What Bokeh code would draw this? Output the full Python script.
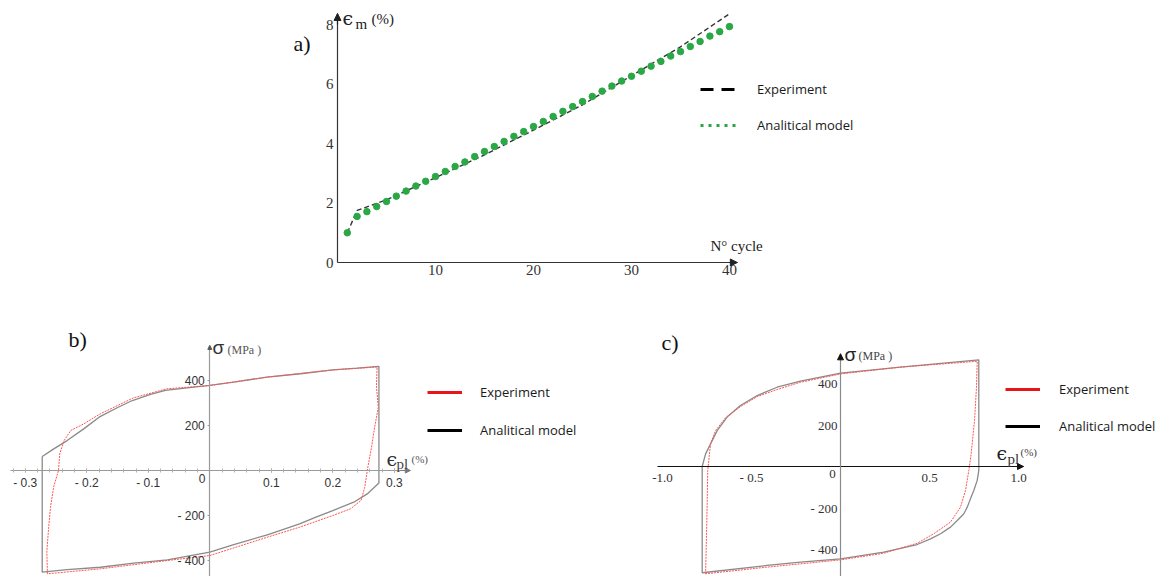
from bokeh.plotting import figure
from bokeh.models import (Range1d, LinearAxis, FixedTicker, Arrow, NormalHead, Label,
                          Legend, LegendItem, Spacer, Grid)
from bokeh.layouts import row, column
from bokeh.embed import file_html
from bokeh.resources import INLINE

NAN = float("nan")

# ---------------- data : panel a ----------------
cycles = list(range(1, 41))
model_a = [1.00, 1.55, 1.71, 1.88, 2.05, 2.23, 2.40, 2.57, 2.73, 2.89,
           3.06, 3.23, 3.38, 3.56, 3.73, 3.90, 4.07, 4.24, 4.40, 4.57,
           4.74, 4.91, 5.08, 5.24, 5.41, 5.58, 5.76, 5.93, 6.10, 6.26,
           6.43, 6.60, 6.76, 6.94, 7.09, 7.26, 7.43, 7.61, 7.76, 7.93]
exp_a_cycles = [1, 2, 5, 10, 15, 20, 25, 30, 35, 40]
exp_a_strain = [1.0, 1.75, 2.11, 2.85, 3.62, 4.45, 5.30, 6.28, 7.25, 8.36]
a_xticks = [10, 20, 30, 40]
a_yticks = [0, 2, 4, 6, 8]

# ---------------- data : panel b ----------------
b_model_up_eps = [-0.2725, -0.2537, -0.232, -0.205, -0.18, -0.1506, -0.126, -0.0964, -0.072,
                  -0.0368, 0.0, 0.039, 0.093, 0.1475, 0.2, 0.2397, 0.275]
b_model_up_sig = [62, 96, 133, 185, 237, 279, 311, 338, 356,
                  367, 378, 393, 415, 430, 447, 455, 463]
b_model_lo_eps = [0.275, 0.275, 0.256, 0.234, 0.2, 0.1725, 0.146, 0.0935, 0.039, 0.0, -0.069,
                  -0.1236, -0.178, -0.232, -0.2725]
b_model_lo_sig = [463, -56, -104, -141, -178, -207, -237, -286, -329, -363, -397,
                  -412, -430, -441, -452]
b_exp_eps = [-0.264, -0.265, -0.262, -0.259, -0.254, -0.246, -0.244, -0.237, -0.226, -0.205,
             -0.178, -0.124, -0.070, 0.0, 0.093, 0.200, 0.272,
             0.271, 0.274, 0.268, 0.263, 0.257, 0.252, 0.246, 0.229, 0.200, 0.146,
             0.094, 0.0, -0.069, -0.178, -0.264]
b_exp_sig = [-459, -362, -252, -163, -74, 0, 74, 133, 178, 207,
             252, 323, 363, 378, 415, 447, 460,
             370, 281, 192, 104, 15, -74, -133, -170, -200, -252,
             -296, -378, -400, -437, -459]
b_xticks = [-0.3, -0.2, -0.1, 0.1, 0.2, 0.3]
b_xlabels = ["- 0.3", "- 0.2", "- 0.1", "0.1", "0.2", "0.3"]
b_yticks = [-400, -200, 200, 400]
b_ylabels = ["- 400", "- 200", "200", "400"]

# ---------------- data : panel c ----------------
c_model_up_eps = [-0.777, -0.758, -0.730, -0.693, -0.637, -0.562, -0.468, -0.356, -0.225, 0.0, 0.337, 0.777]
c_model_up_sig = [0, 61, 109, 173, 238, 294, 342, 382, 411, 450, 479, 514]
c_model_lo_eps = [0.777, 0.777, 0.768, 0.749, 0.730, 0.712, 0.693, 0.656, 0.618, 0.562, 0.506,
                  0.431, 0.243, 0.0, -0.225, -0.412, -0.777]
c_model_lo_sig = [514, -19, -67, -116, -156, -196, -228, -260, -292, -324, -349,
                  -376, -413, -445, -461, -477, -512]
c_exp_eps = [-0.758, -0.753, -0.749, -0.746, -0.730, -0.702, -0.646, -0.562, -0.468, -0.356,
             -0.225, 0.0, 0.337, 0.768,
             0.764, 0.753, 0.734, 0.721, 0.702, 0.674, 0.618, 0.524, 0.431, 0.243, 0.0,
             -0.412, -0.758]
c_exp_sig = [-517, -341, -180, -19, 109, 173, 235, 289, 337, 371,
             406, 446, 479, 507,
             382, 222, 61, -19, -116, -196, -268, -324, -370, -418, -450,
             -485, -517]
c_xticks = [-1.0, -0.5, 0.5, 1.0]
c_xlabels = ["-1.0", "- 0.5", "0.5", "1.0"]
c_yticks = [-400, -200, 200, 400]
c_ylabels = ["- 400", "- 200", "200", "400"]

SERIF = "Liberation Serif"
SANS = "Liberation Sans"
LEG = "Open Sans"


def make_mapper(x0, xs, y0, ys):
    # reference pixel -> data coordinates
    return lambda X, Y: ((X - x0) / xs, (y0 - Y) / ys)


def new_fig(w, h, left, top, m):
    xa, ya = m(left, top + h)
    xb, yb = m(left + w, top)
    p = figure(width=w, height=h, x_range=Range1d(xa, xb), y_range=Range1d(ya, yb),
               output_backend="svg", toolbar_location=None, min_border=0,
               x_axis_location=None, y_axis_location=None)
    p.outline_line_color = None
    p.background_fill_color = "white"
    p.border_fill_color = "white"
    for g in p.select(type=Grid):
        g.visible = False
    return p


def lab(p, m, X, Y, text, size, font, color="#222", align="left"):
    x, y = m(X, Y)
    p.add_layout(Label(x=x, y=y, text=text, text_font=font, text_font_size=size,
                       text_color=color, text_align=align, text_baseline="middle"))


def axis(p, side, ticks, labels, bounds, color, font, size, lcolor, standoff, minor=None,
         tick_in=0, tick_out=0, mcolor=None):
    ax = LinearAxis(fixed_location=0, bounds=bounds,
                    ticker=FixedTicker(ticks=ticks, minor_ticks=minor or []))
    ax.axis_line_color = color
    ax.axis_line_width = 1.2
    ax.major_tick_line_color = color if (tick_in or tick_out) else None
    ax.major_tick_in = tick_in
    ax.major_tick_out = tick_out
    ax.minor_tick_line_color = mcolor
    ax.minor_tick_in = 2
    ax.minor_tick_out = 2
    ax.major_label_text_font = font
    ax.major_label_text_font_size = size
    ax.major_label_text_color = lcolor
    ax.major_label_standoff = standoff
    if labels is not None:
        ax.major_label_overrides = {t: l for t, l in zip(ticks, labels)}
    p.add_layout(ax, side)
    return ax


def arrow(p, x0, y0, x1, y1, color, size):
    p.add_layout(Arrow(end=NormalHead(size=size, fill_color=color, line_color=color),
                       x_start=x0, y_start=y0, x_end=x1, y_end=y1,
                       line_color=color, line_width=1.2))


def legend(p, items, loc, gw, spacing, standoff):
    lg = Legend(items=[LegendItem(label=t, renderers=[r]) for t, r in items],
                location=loc, orientation="vertical", glyph_width=gw, glyph_height=20,
                label_height=20, spacing=spacing, padding=0, margin=0,
                label_standoff=standoff, border_line_color=None,
                background_fill_alpha=0, label_text_font=LEG,
                label_text_font_size="13px", label_text_color="#1a1a1a")
    p.add_layout(lg)


# ================= panel a =================
ma = make_mapper(337, 9.8, 262, 29.75)
pa = new_fig(600, 298, 280, 0, ma)
axis(pa, "below", a_xticks, None, (0, 40.8), "#333", SERIF, "15px", "#333", 2)
axis(pa, "left", a_yticks, None, (0, 8.37), "#333", SERIF, "15px", "#333", 4)
arrow(pa, 40.0, 0, 40.8, 0, "#222", 7)
arrow(pa, 0, 8.0, 0, 8.37, "#222", 7)
pa.line(exp_a_cycles, exp_a_strain, line_color="#333", line_width=1.4, line_dash="5 3")
pa.scatter(cycles, model_a, size=6.5, fill_color="#2aa845", line_color="#2aa845")
d1 = pa.line([NAN], [NAN], line_color="black", line_width=3, line_dash="13 8")
d2 = pa.line([NAN], [NAN], line_color="#2aa845", line_width=3, line_dash="3 5")
legend(pa, [("Experiment", d1), ("Analitical model", d2)], (420, 163), 40, 16, 17)
lab(pa, ma, 293, 43, "a)", "22px", SERIF, "#111")
lab(pa, ma, 342, 17, "ϵ", "19px", "DejaVu Serif", "#222")
lab(pa, ma, 355, 23, "m", "15px", SERIF, "#222")
lab(pa, ma, 371, 18, "(%)", "15px", SERIF, "#222")
lab(pa, ma, 710, 245, "N° cycle", "15px", SERIF, "#222")

# ================= panel b =================
mb = make_mapper(209.3, 615, 470, 0.225)
pb = new_fig(628, 278, 0, 298, mb)
bminor = [round(-0.32 + 0.02 * i, 2) for i in range(33)]
axis(pb, "below", b_xticks, b_xlabels, (-0.324, 0.326), "#9a9a9a", SANS, "12px", "#333", 3,
     minor=bminor, tick_in=2, tick_out=2, mcolor="#b0b0b0")
axis(pb, "left", b_yticks, b_ylabels, (-470, 556), "#9a9a9a", SANS, "12px", "#333", 3,
     tick_in=0, tick_out=2)
arrow(pb, 0.31, 0, 0.326, 0, "#777", 5)
arrow(pb, 0, 540, 0, 556, "#555", 4)
pb.line(b_model_up_eps + b_model_lo_eps + b_model_up_eps[:1],
        b_model_up_sig + b_model_lo_sig + b_model_up_sig[:1],
        line_color="#8a8a8a", line_width=1.3)
pb.line(b_exp_eps, b_exp_sig, line_color="#ff5555", line_width=1, line_dash="2 1")
e1 = pb.line([NAN], [NAN], line_color="#e8141c", line_width=3)
e2 = pb.line([NAN], [NAN], line_color="black", line_width=3)
legend(pb, [("Experiment", e1), ("Analitical model", e2)], (427, 136), 35, 18, 18)
lab(pb, mb, 68, 339, "b)", "22px", SERIF, "#111")
lab(pb, mb, 201.7, 478, "0", "12px", SANS, "#333", "center")
lab(pb, mb, 212, 347, "σ", "19px", SANS, "#333")
lab(pb, mb, 227, 349, "(MPa )", "12px", SERIF, "#555")
lab(pb, mb, 386, 458, "ϵ", "19px", "DejaVu Serif", "#333")
lab(pb, mb, 396, 463, "pl", "15px", SERIF, "#444")
lab(pb, mb, 411, 458, "(%)", "11px", SERIF, "#555")

# ================= panel c =================
mc = make_mapper(840, 178, 466, 0.2075)
pc = new_fig(545, 278, 628, 298, mc)
axis(pc, "below", c_xticks, c_xlabels, (-1.03, 1.028), "#111", SERIF, "13px", "#333", 3)
axis(pc, "left", c_yticks, c_ylabels, (-530, 543), "#8a8a8a", SERIF, "13px", "#333", 3)
arrow(pc, 1.0, 0, 1.028, 0, "#111", 6)
arrow(pc, 0, 520, 0, 543, "#111", 6)
pc.line(c_model_up_eps + c_model_lo_eps + c_model_up_eps[:1],
        c_model_up_sig + c_model_lo_sig + c_model_up_sig[:1],
        line_color="#8a8a8a", line_width=1.3)
pc.line(c_exp_eps, c_exp_sig, line_color="#ff5555", line_width=1, line_dash="2 1")
f1 = pc.line([NAN], [NAN], line_color="#e8141c", line_width=3)
f2 = pc.line([NAN], [NAN], line_color="black", line_width=3)
legend(pc, [("Experiment", f1), ("Analitical model", f2)], (377, 140), 35, 17, 19)
lab(pc, mc, 661, 342, "c)", "22px", SERIF, "#111")
lab(pc, mc, 832, 473, "0", "13px", SERIF, "#333", "center")
lab(pc, mc, 844, 354, "σ", "19px", SANS, "#222")
lab(pc, mc, 858, 355, "(MPa )", "12px", SERIF, "#444")
lab(pc, mc, 996, 452, "ϵ", "19px", "DejaVu Serif", "#222")
lab(pc, mc, 1007, 458, "pl", "15px", SERIF, "#333")
lab(pc, mc, 1020, 451, "(%)", "11px", SERIF, "#444")

layout = column(row(Spacer(width=280, height=298), pa), row(pb, pc))
open("out.html", "w").write(file_html(layout, INLINE))
